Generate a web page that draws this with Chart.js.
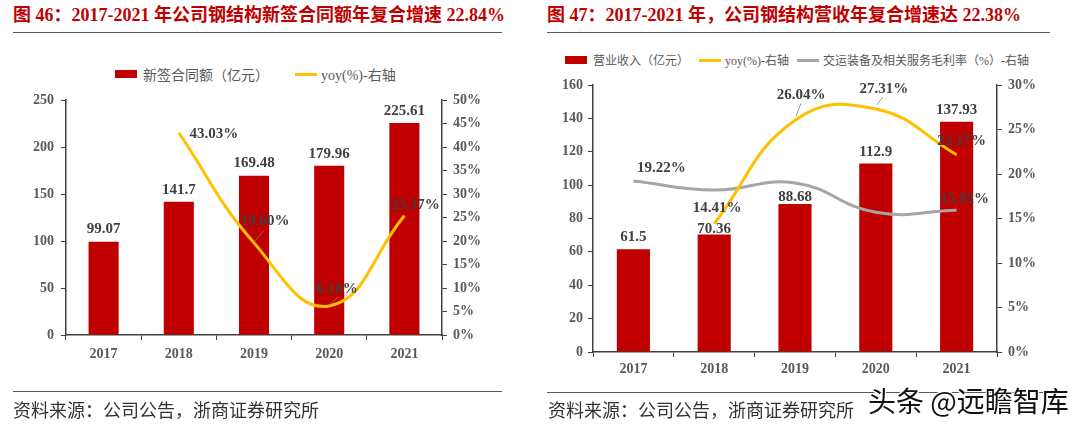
<!DOCTYPE html>
<html>
<head>
<meta charset="utf-8">
<script src="https://cdn.jsdelivr.net/npm/chart.js@4.4.1/dist/chart.umd.min.js"></script>
<style>
body { margin: 0; background: #fff; }
#page { position: relative; width: 1080px; height: 425px; overflow: hidden; }
.title { position: absolute; top: 0; font-family: 'Liberation Serif', 'Noto Sans CJK SC', serif; font-size: 18px; font-weight: bold; color: #C00000; white-space: nowrap; }
.rule { position: absolute; height: 0; border-top: 1.5px solid #595959; }
.source { position: absolute; top: 396px; font-family: 'Noto Sans CJK SC', sans-serif; font-size: 18px; color: #333; white-space: nowrap; }
.legend { position: absolute; display: flex; align-items: center; font-family: 'Liberation Serif', 'Noto Sans CJK SC', serif; color: #595959; white-space: nowrap; }
.legend .box { display: inline-block; width: 22px; height: 8px; background: #C00000; margin-right: 6px; }
.legend .ln { display: inline-block; width: 22px; height: 3px; margin-right: 4px; }
.legend span.item { display: inline-flex; align-items: center; }
#mark { position: absolute; left: 868px; top: 380px; font-family: 'Noto Sans CJK SC', sans-serif; font-size: 28px; color: #111; white-space: nowrap;
  text-shadow: -1px -1px 0 #fff, 1px -1px 0 #fff, -1px 1px 0 #fff, 1px 1px 0 #fff; }
canvas { position: absolute; top: 0; }
</style>
</head>
<body>
<div id="page">
  <div class="title" style="left:13px;">图 46：2017-2021 年公司钢结构新签合同额年复合增速 22.84%</div>
  <div class="rule" style="left:13px; top:32px; width:489px;"></div>
  <div class="legend" style="left:115px; top:64px; font-size:14px;">
    <span class="item" style="margin-right:26px;"><span class="box"></span>新签合同额（亿元）</span>
    <span class="item"><span class="ln" style="background:#FFC000;"></span>yoy(%)-右轴</span>
  </div>

  <div class="title" style="left:547px;">图 47：2017-2021 年，公司钢结构营收年复合增速达 22.38%</div>
  <div class="rule" style="left:547px; top:32px; width:503px;"></div>
  <div class="legend" style="left:565px; top:51px; font-size:12px;">
    <span class="item" style="margin-right:10px;"><span class="box"></span>营业收入（亿元）</span>
    <span class="item" style="margin-right:8px;"><span class="ln" style="background:#FFC000;"></span>yoy(%)-右轴</span>
    <span class="item"><span class="ln" style="background:#A5A5A5;"></span>交运装备及相关服务毛利率（%）-右轴</span>
  </div>

  <canvas id="contractChart" width="540" height="425" style="left:0;"></canvas>
  <canvas id="revenueChart" width="540" height="425" style="left:540px;"></canvas>

  <div class="rule" style="left:13px; top:391px; width:489px;"></div>
  <div class="source" style="left:13px;">资料来源：公司公告，浙商证券研究所</div>
  <div class="rule" style="left:547px; top:392px; width:503px;"></div>
  <div class="source" style="left:548px;">资料来源：公司公告，浙商证券研究所</div>
  <div id="mark">头条 @远瞻智库</div>
</div>

<script>
// data
const years = ['2017', '2018', '2019', '2020', '2021'];

// fig 46: new contracts (100m yuan) and yoy (%)
const contractValues = [99.07, 141.7, 169.48, 179.96, 225.61];
const contractYoy = [null, 43.03, 19.60, 6.18, 25.37];

// fig 47: revenue (100m yuan), yoy (%) and gross margin (%)
const revenueValues = [61.5, 70.36, 88.68, 112.9, 137.93];
const revenueYoy = [null, 14.41, 26.04, 27.31, 22.17];
const marginValues = [19.22, 18.2, 19.0, 15.7, 15.92];

const labelFont = 'bold 15px "Liberation Serif"';
const tickFont = { family: 'Liberation Serif', size: 14, weight: 'bold' };

function asNumber(v) { return String(v); }
function asPercent(v) { return v.toFixed(2) + '%'; }

// draws the value labels (and small leader lines) next to each bar / point
const valueLabels = {
    id: 'valueLabels',
    afterDatasetsDraw(chart) {
        const ctx = chart.ctx;
        chart.data.datasets.forEach((ds, i) => {
            const cfg = ds.labelStyle;
            if (!cfg) return;
            const meta = chart.getDatasetMeta(i);
            meta.data.forEach((el, j) => {
                const v = ds.data[j];
                const off = cfg.offsets[j];
                if (v === null || v === undefined || !off) return; // no label for this point
                ctx.save();
                if (cfg.leaders && cfg.leaders[j]) {
                    const l = cfg.leaders[j];
                    ctx.strokeStyle = '#7F7F7F';
                    ctx.lineWidth = 0.8;
                    ctx.beginPath();
                    ctx.moveTo(el.x + l[0], el.y + l[1]);
                    ctx.lineTo(el.x + l[2], el.y + l[3]);
                    ctx.stroke();
                }
                ctx.font = labelFont;
                ctx.fillStyle = '#404040';
                ctx.textAlign = 'center';
                ctx.textBaseline = 'middle';
                ctx.fillText(cfg.format(v), el.x + off[0], el.y + off[1]);
                ctx.restore();
            });
        });
    }
};

function axis(extra) {
    return Object.assign({
        grid: { display: true, drawOnChartArea: false, drawTicks: true, tickLength: 5, color: '#404040' },
        border: { display: true, color: '#404040', width: 1.5 },
        ticks: { color: '#595959', font: tickFont, padding: 7 }
    }, extra);
}

function makeChart(id, datasets, scales, padding) {
    return new Chart(document.getElementById(id), {
        type: 'bar',
        data: { labels: years, datasets: datasets },
        options: {
            responsive: false,
            animation: false,
            layout: { padding: padding },
            plugins: { legend: { display: false }, tooltip: { enabled: false } },
            scales: scales
        },
        plugins: [valueLabels]
    });
}

function lineSet(label, data, color, labelStyle) {
    return {
        type: 'line',
        label: label,
        data: data,
        yAxisID: 'y1',
        borderColor: color,
        borderWidth: 3,
        pointRadius: 0,
        tension: 0.45,
        fill: false,
        order: 0,
        labelStyle: labelStyle
    };
}

makeChart('contractChart', [
    {
        label: '新签合同额（亿元）',
        data: contractValues,
        backgroundColor: '#C00000',
        barPercentage: 0.4,
        categoryPercentage: 1,
        order: 2,
        labelStyle: { format: asNumber, offsets: [[0, -13], [0, -12], [0, -13], [0, -12], [0, -12]] }
    },
    lineSet('yoy(%)-右轴', contractYoy, '#FFC000', {
        format: asPercent,
        offsets: [null, [35, 1], [11, -22], [8, -17], [11, -11]],
        leaders: [null, null, [0, -1, 10, -12], [0, -1, 9, -9], null]
    })
], {
    x: axis({ afterFit: s => { s.height = 30; }, ticks: { color: '#595959', font: tickFont, padding: 6 } }),
    y: axis({ min: 0, max: 250, afterFit: s => { s.width = 50; },
        ticks: { color: '#595959', font: tickFont, padding: 7, stepSize: 50 } }),
    y1: axis({ position: 'right', min: 0, max: 50, afterFit: s => { s.width = 60; },
        ticks: { color: '#595959', font: tickFont, padding: 6, stepSize: 5, callback: v => v + '%' } })
}, { top: 100, left: 16, right: 38, bottom: 60 });

makeChart('revenueChart', [
    {
        label: '营业收入（亿元）',
        data: revenueValues,
        backgroundColor: '#C00000',
        barPercentage: 0.41,
        categoryPercentage: 1,
        order: 2,
        labelStyle: { format: asNumber, offsets: [[0, -12], [0, -5], [0, -7], [0, -11], [0, -12]] }
    },
    lineSet('yoy(%)-右轴', revenueYoy, '#FFC000', {
        format: asPercent,
        offsets: [null, [3, -16], [6, -25], [8, -20], [5, -14]],
        leaders: [null, null, [1, -4, 6, -17], [1, -4, 7, -12], null]
    }),
    lineSet('交运装备及相关服务毛利率（%）-右轴', marginValues, '#A5A5A5', {
        format: asPercent,
        offsets: [[28, -13], null, null, null, [8, -11]]
    })
], {
    x: axis({ afterFit: s => { s.height = 30; }, ticks: { color: '#595959', font: tickFont, padding: 4 } }),
    y: axis({ min: 0, max: 160, afterFit: s => { s.width = 40; },
        ticks: { color: '#595959', font: tickFont, padding: 5, stepSize: 20 } }),
    y1: axis({ position: 'right', min: 0, max: 30, afterFit: s => { s.width = 50; },
        ticks: { color: '#595959', font: tickFont, padding: 6, stepSize: 5, callback: v => v + '%' } })
}, { top: 85, left: 13, right: 33, bottom: 43 });
</script>
</body>
</html>
